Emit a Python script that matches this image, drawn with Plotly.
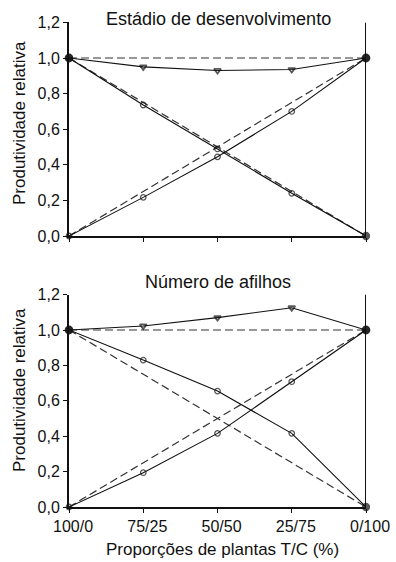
import plotly.graph_objects as go

categories = ["100/0", "75/25", "50/50", "25/75", "0/100"]
y_ticks = [0.0, 0.2, 0.4, 0.6, 0.8, 1.0, 1.2]
y_tick_labels = ["0,0", "0,2", "0,4", "0,6", "0,8", "1,0", "1,2"]

titles = ["Estádio de desenvolvimento", "Número de afilhos"]
y_title = "Produtividade relativa"
x_title = "Proporções de plantas T/C (%)"

# Top panel: Estádio de desenvolvimento
est_total = [1.0, 0.95, 0.93, 0.935, 1.0]
est_T = [1.0, 0.736, 0.489, 0.24, 0.0]
est_C = [0.0, 0.217, 0.445, 0.70, 1.0]

# Bottom panel: Número de afilhos
afi_total = [1.0, 1.023, 1.07, 1.126, 1.0]
afi_T = [1.0, 0.83, 0.655, 0.416, 0.0]
afi_C = [0.0, 0.194, 0.416, 0.708, 1.0]

# Expected (no-interaction) lines
exp_total = [1.0, 1.0]
exp_T = [1.0, 0.0]
exp_C = [0.0, 1.0]

panels = [(est_total, est_T, est_C), (afi_total, afi_T, afi_C)]

xs = list(range(len(categories)))
xend = [0, len(categories) - 1]

fig = go.Figure()
FONT = "Liberation Sans, Arial, sans-serif"
INK = "#111"

for i, (tot, T, C) in enumerate(panels):
    xa = "x" if i == 0 else "x2"
    ya = "y" if i == 0 else "y2"
    fig.add_shape(type="line", xref=xa, yref=ya, x0=4, x1=4, y0=0, y1=1.2,
                  line=dict(color=INK, width=2), layer="below")
    for ref in (exp_total, exp_T, exp_C):
        fig.add_trace(go.Scatter(x=xend, y=ref, mode="lines", xaxis=xa, yaxis=ya,
                                 line=dict(color="#333", width=1.2, dash="8px,4px"),
                                 showlegend=False, hoverinfo="skip", cliponaxis=False))
    fig.add_trace(go.Scatter(x=xs, y=tot, mode="lines+markers", xaxis=xa, yaxis=ya,
                             line=dict(color=INK, width=1.1),
                             marker=dict(symbol=["circle"] + ["triangle-down-open"] * 3 + ["circle"],
                                         size=[7, 6, 6, 6, 7], color=INK,
                                         line=dict(color=INK, width=1.8)),
                             showlegend=False, cliponaxis=False))
    fig.add_trace(go.Scatter(x=xs, y=T, mode="lines+markers", xaxis=xa, yaxis=ya,
                             line=dict(color=INK, width=1.1),
                             marker=dict(symbol=["circle"] + ["circle-open"] * 3 + ["circle"],
                                         size=[7, 5.5, 5.5, 5.5, 7], color=INK,
                                         line=dict(color=INK, width=1.3)),
                             showlegend=False, cliponaxis=False))
    fig.add_trace(go.Scatter(x=xs, y=C, mode="lines+markers", xaxis=xa, yaxis=ya,
                             line=dict(color=INK, width=1.1),
                             marker=dict(symbol=["circle-open"] * 4 + ["circle"],
                                         size=[5.5, 5.5, 5.5, 5.5, 7], color=INK,
                                         line=dict(color=INK, width=1.3)),
                             showlegend=False, cliponaxis=False))

W, H = 396, 562
ML, MR = 69, 30
top_dom = [1 - 236 / H, 1 - 22.4 / H]
bot_dom = [1 - 507 / H, 1 - 294.6 / H]

yax = dict(range=[0, 1.2], tickvals=y_ticks, ticktext=y_tick_labels, showline=True,
           linecolor=INK, linewidth=2, ticks="outside", ticklen=4, tickcolor=INK,
           showgrid=False, zeroline=False, automargin=False, layer="below traces",
           tickfont=dict(size=16, color=INK, family=FONT))
xax = dict(range=[0, 4], tickvals=xs, showline=True, linecolor=INK, linewidth=2,
           ticks="outside", ticklen=4, tickcolor=INK, showgrid=False, zeroline=False,
           automargin=False, layer="below traces",
           tickfont=dict(size=16, color=INK, family=FONT))


def px_y(p):
    return 1 - p / H


def px_x(p):
    return (p - ML) / (W - ML - MR)


ann = [
    dict(text=titles[0], x=px_x(218), y=px_y(18.5)),
    dict(text=titles[1], x=px_x(218), y=px_y(281.5)),
    dict(text=x_title, x=px_x(222), y=px_y(549), size=17),
    dict(text=y_title, x=px_x(19), y=px_y(123), size=17, angle=-90),
    dict(text=y_title, x=px_x(19), y=px_y(390), size=17, angle=-90),
]
annotations = [
    dict(text=a["text"], x=a["x"], y=a["y"], xref="paper", yref="paper", showarrow=False,
         xanchor="center", yanchor="middle", textangle=a.get("angle", 0),
         font=dict(size=a.get("size", 18), color=INK, family=FONT))
    for a in ann
]

fig.update_layout(
    width=W, height=H,
    margin=dict(l=ML, r=MR, t=0, b=0, pad=0, autoexpand=False),
    plot_bgcolor="white", paper_bgcolor="white",
    font=dict(family=FONT, color=INK),
    xaxis=dict(xax, domain=[0, 1], anchor="y", ticktext=[""] * 5),
    yaxis=dict(yax, domain=top_dom, anchor="x"),
    xaxis2=dict(xax, domain=[0, 1], anchor="y2", ticktext=categories, ticklabelshift=4),
    yaxis2=dict(yax, domain=bot_dom, anchor="x2"),
    annotations=annotations,
)

fig.write_html("out.html", config={"displayModeBar": False},
               post_script="document.body.style.margin='0';")
